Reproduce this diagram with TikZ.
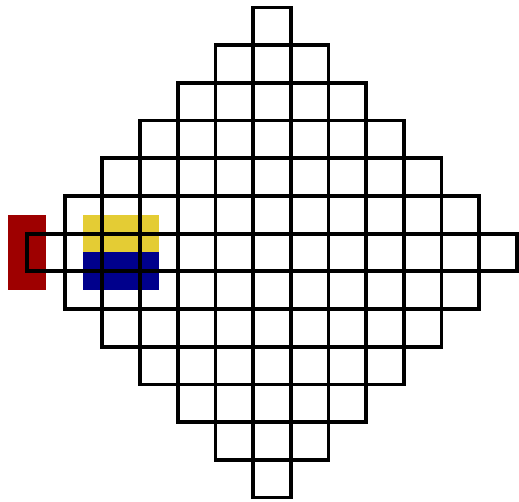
\documentclass[tikz,border=0pt]{standalone}
\usepackage{tikz}
\definecolor{blockred}{RGB}{158,0,0}
\definecolor{blockyellow}{RGB}{228,204,52}
\definecolor{blockblue}{RGB}{0,0,140}

\begin{document}
\begin{tikzpicture}[x=1cm, y=1cm, cellbox/.style={draw=black, line width=2.8pt}]
\useasboundingbox (-7.215,-6.592) rectangle (6.552,6.698);
% coloured blocks (under the grid)
\fill[blockred] (-7,-1) rectangle (-6,1);
\fill[blockyellow] (-5,0) rectangle (-3,1);
\fill[blockblue] (-5,-1) rectangle (-3,0);
% diamond of cells
\foreach \k in {-6,...,6}{
  \pgfmathtruncatemacro{\n}{6-abs(\k)}
  \foreach \i in {-\n,...,\n}
    \draw[cellbox] (\i-0.5,\k-0.5) rectangle (\i+0.5,\k+0.5);
}
\end{tikzpicture}
\end{document}
